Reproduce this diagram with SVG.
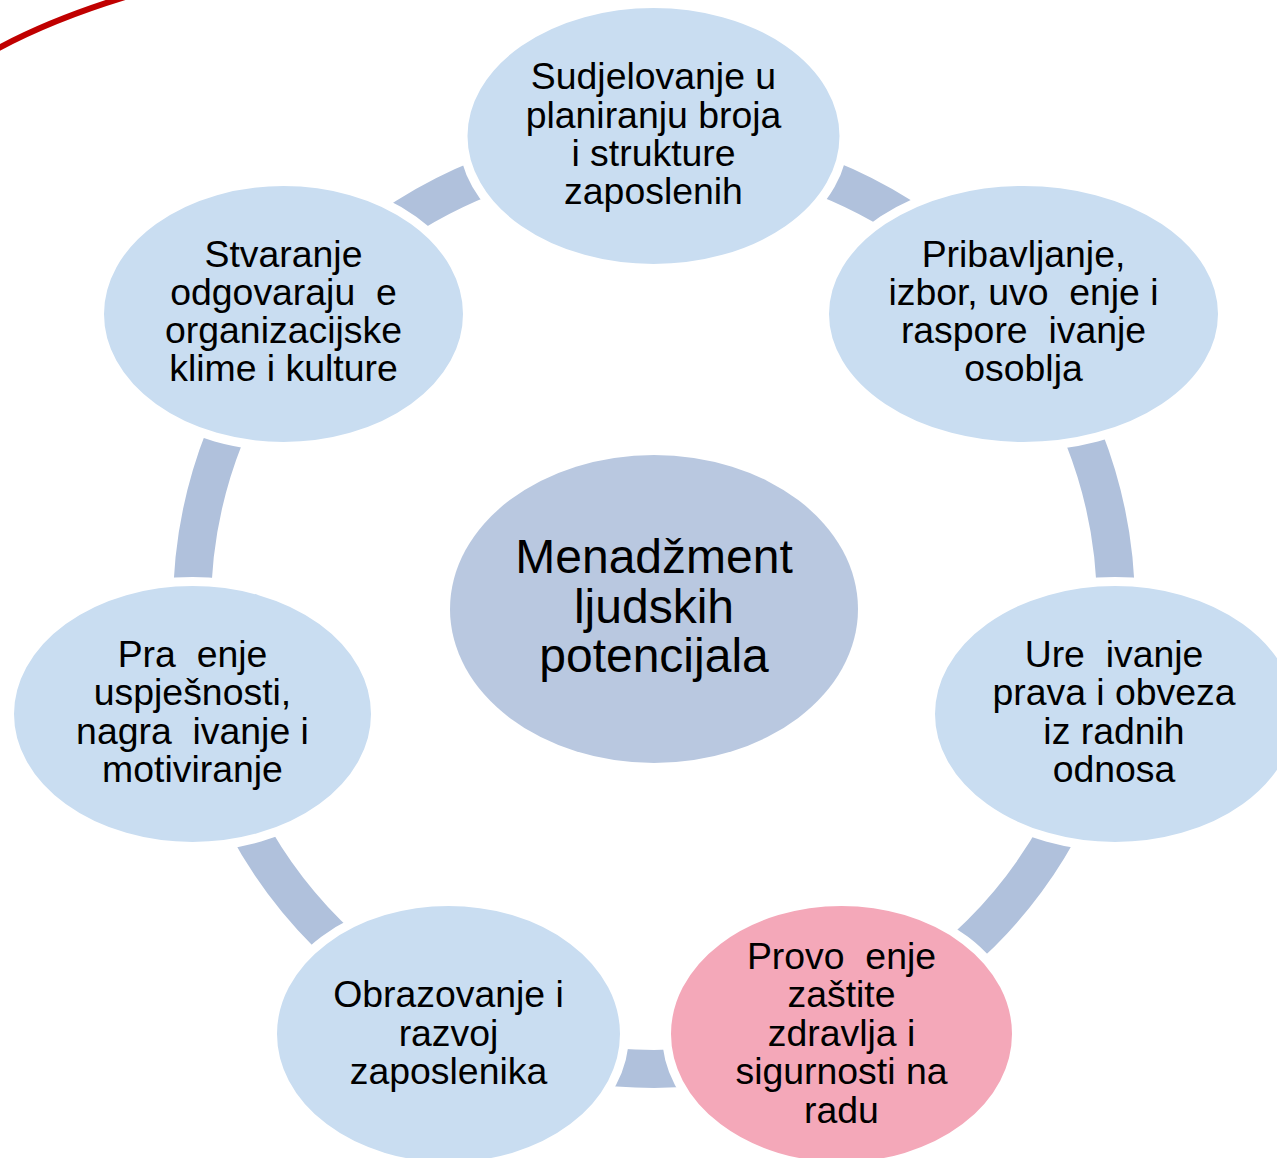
<svg xmlns="http://www.w3.org/2000/svg" width="1277" height="1158" viewBox="0 0 1277 1158">
<style>
.n{fill:#c9ddf1;stroke:#fff;stroke-width:9}
.t{font-family:"Liberation Sans",Arial,sans-serif;font-size:37.4px;fill:#000;text-anchor:middle;white-space:pre}
.c{font-size:48px}
</style>
<rect width="1277" height="1158" fill="#fff"/>
<path d="M -5 50 Q 50 20 125 -3" fill="none" stroke="#c00000" stroke-width="6"/>
<g id="connectors">
<circle cx="654" cy="607" r="462" fill="none" stroke="#b0c1dc" stroke-width="38"/>
</g>
<g id="center">
<ellipse cx="654" cy="609" rx="204" ry="154" fill="#b9c8e0"/>
<text class="t c" x="654" y="573">Menadžment</text>
<text class="t c" x="654" y="623">ljudskih</text>
<text class="t c" x="654" y="672">potencijala</text>
</g>
<g id="n1">
<ellipse class="n" cx="653.5" cy="136" rx="190.5" ry="132.5"/>
<text class="t" x="653.5" y="89">Sudjelovanje u</text>
<text class="t" x="653.5" y="128">planiranju broja</text>
<text class="t" x="653.5" y="166">i strukture</text>
<text class="t" x="653.5" y="204">zaposlenih</text>
</g>
<g id="n2">
<ellipse class="n" cx="1023.5" cy="314" rx="199" ry="132.5"/>
<text class="t" x="1023.5" y="267">Pribavljanje,</text>
<text class="t" x="1023.5" y="305">izbor, uvo  enje i</text>
<text class="t" x="1023.5" y="343">raspore  ivanje</text>
<text class="t" x="1023.5" y="381">osoblja</text>
</g>
<g id="n3">
<ellipse class="n" cx="1115" cy="714" rx="184.5" ry="132.5"/>
<text class="t" x="1114" y="667">Ure  ivanje</text>
<text class="t" x="1114" y="705">prava i obveza</text>
<text class="t" x="1114" y="744">iz radnih</text>
<text class="t" x="1114" y="782">odnosa</text>
</g>
<g id="n4">
<ellipse class="n" cx="841.5" cy="1034" rx="175" ry="132.5" style="fill:#f4a8b9"/>
<text class="t" x="841.5" y="969">Provo  enje</text>
<text class="t" x="841.5" y="1007">zaštite</text>
<text class="t" x="841.5" y="1046">zdravlja i</text>
<text class="t" x="841.5" y="1084">sigurnosti na</text>
<text class="t" x="841.5" y="1123">radu</text>
</g>
<g id="n5">
<ellipse class="n" cx="448.5" cy="1034" rx="176" ry="132.5"/>
<text class="t" x="448.5" y="1007">Obrazovanje i</text>
<text class="t" x="448.5" y="1046">razvoj</text>
<text class="t" x="448.5" y="1084">zaposlenika</text>
</g>
<g id="n6">
<ellipse class="n" cx="192.5" cy="714" rx="183" ry="132.5"/>
<text class="t" x="192.5" y="667">Pra  enje</text>
<text class="t" x="192.5" y="705">uspješnosti,</text>
<text class="t" x="192.5" y="744">nagra  ivanje i</text>
<text class="t" x="192.5" y="782">motiviranje</text>
</g>
<g id="n7">
<ellipse class="n" cx="283.5" cy="314" rx="184" ry="132.5"/>
<text class="t" x="283.5" y="267">Stvaranje</text>
<text class="t" x="283.5" y="305">odgovaraju  e</text>
<text class="t" x="283.5" y="343">organizacijske</text>
<text class="t" x="283.5" y="381">klime i kulture</text>
</g>
</svg>
